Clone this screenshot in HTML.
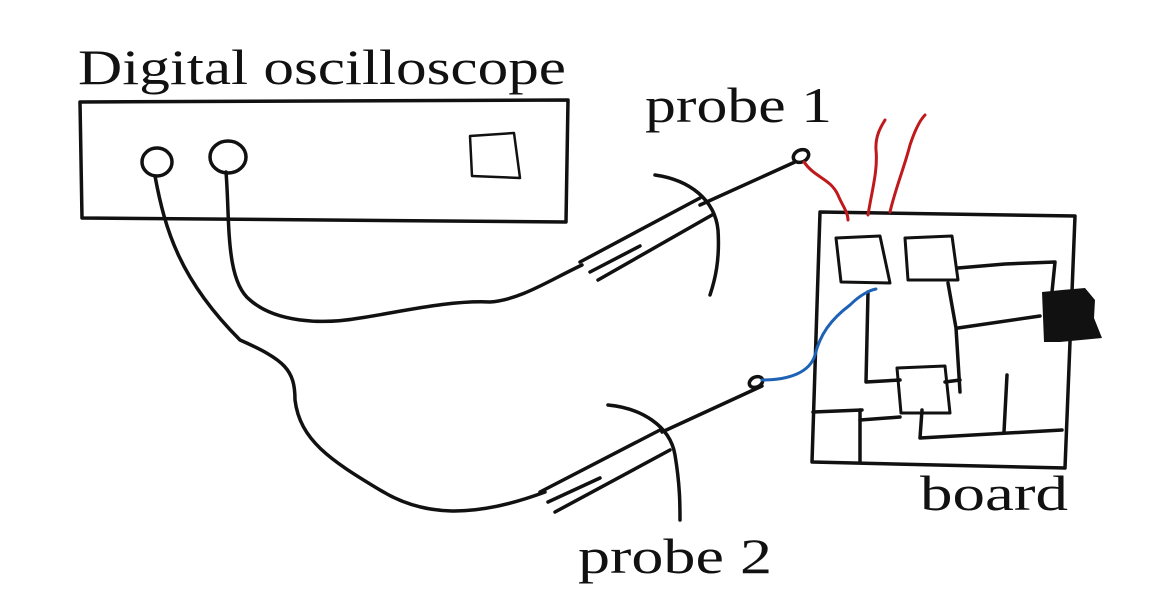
<!DOCTYPE html>
<html><head><style>
html,body{margin:0;padding:0;background:#fff;}
svg{display:block;}
text{font-family:"Liberation Serif",serif;fill:#111;}
</style></head><body>
<svg width="1169" height="597" viewBox="0 0 1169 597" xmlns="http://www.w3.org/2000/svg">
<g fill="none" stroke="#111" stroke-width="3.5" stroke-linecap="round" stroke-linejoin="round">
<path d="M80,102 L568,100 L566,222 L82,218 Z"/>
<ellipse cx="157" cy="162" rx="15" ry="14"/>
<ellipse cx="228" cy="157" rx="18" ry="16"/>
<path d="M470,136 L514,133 L520,178 L472,176 Z" stroke-width="2.5"/>
<path d="M226,172 C230,220 225,280 250,300 C275,322 320,325 360,318 C400,312 450,300 490,302 C520,300 550,280 582,265"/>
<path d="M580,262 L700,198"/>
<path d="M598,280 L712,215"/>
<path d="M590,272 L640,246"/>
<path d="M700,205 L795,162"/>
<ellipse cx="801" cy="156" rx="8" ry="6" transform="rotate(-25 801 156)"/>
<path d="M655,175 C690,180 715,200 718,230 C720,260 715,280 710,295"/>
<path d="M155,176 C165,230 180,280 240,340 C285,360 295,370 295,400 C300,440 330,460 380,490 C420,515 470,520 545,492"/>
<path d="M540,492 L660,430"/>
<path d="M555,512 L670,450"/>
<path d="M548,502 L600,478"/>
<path d="M662,432 L762,386"/>
<ellipse cx="756" cy="382" rx="7" ry="5" transform="rotate(-25 756 382)"/>
<path d="M608,405 C640,408 670,425 675,455 C680,485 680,505 680,520"/>
<path d="M820,212 L1075,216 L1065,468 L812,462 Z"/>
<path d="M836,238 L880,236 L890,283 L841,282 Z" stroke-width="3"/>
<path d="M905,238 L952,236 L958,280 L908,280 Z" stroke-width="3"/>
<path d="M897,368 L945,366 L950,413 L901,413 Z" stroke-width="3"/>
<path d="M958,268 L1005,264 L1055,262 L1052,292"/>
<path d="M958,328 L1040,316"/>
<path d="M948,283 L956,328 L960,392"/>
<path d="M945,382 L960,380"/>
<path d="M868,292 L866,382 L900,380"/>
<path d="M813,412 L862,410"/>
<path d="M860,410 L860,462"/>
<path d="M860,420 L900,417"/>
<path d="M922,410 L920,438 L1062,430"/>
<path d="M1007,375 L1004,432"/>
</g>
<path d="M1042,292 L1062,290 L1085,288 L1095,300 L1094,318 L1102,338 L1060,342 L1044,342 Z" fill="#111"/>
<g fill="none" stroke-width="3" stroke-linecap="round">
<path d="M804,162 C815,178 830,178 838,195 C842,205 848,212 848,220" stroke="#c0191c"/>
<path d="M868,215 C872,190 878,170 876,150 C875,135 882,125 885,120" stroke="#c0191c"/>
<path d="M890,212 C895,190 905,165 910,145 C915,130 920,120 925,115" stroke="#c0191c"/>
<path d="M762,380 C790,380 810,372 815,355 C820,335 830,320 850,305 C860,295 870,290 876,289" stroke="#1d62b5"/>
</g>
<g>
<text x="78" y="84" font-size="50" textLength="488" lengthAdjust="spacingAndGlyphs">Digital oscilloscope</text>
<text x="645" y="122" font-size="50" textLength="187" lengthAdjust="spacingAndGlyphs">probe 1</text>
<text x="578" y="573" font-size="50" textLength="194" lengthAdjust="spacingAndGlyphs">probe 2</text>
<text x="920" y="510" font-size="50" textLength="148" lengthAdjust="spacingAndGlyphs">board</text>
</g>
</svg>
</body></html>
